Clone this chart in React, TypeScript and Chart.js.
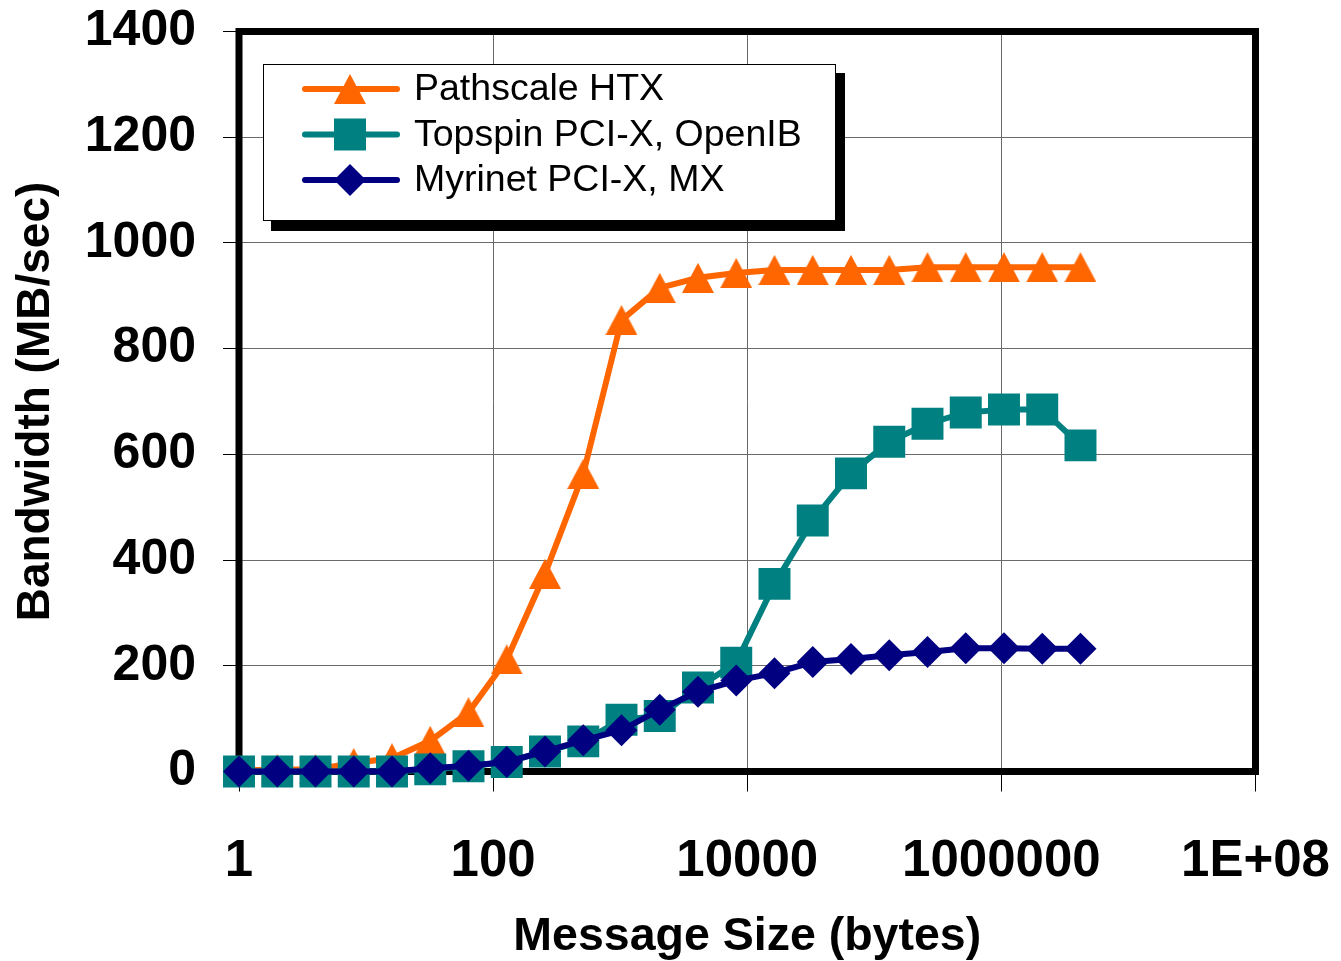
import React, { useEffect, useRef } from 'react';
import { Chart, registerables } from 'chart.js';

Chart.register(...registerables);

// ---- Data ----
const messageSizes = [
  1, 2, 4, 8, 16, 32, 64, 128, 256, 512, 1024, 2048, 4096, 8192, 16384, 32768,
  65536, 131072, 262144, 524288, 1048576, 2097152, 4194304,
];
const pathscaleHTX = [
  2, 4, 4, 16, 25, 58, 112, 212, 374, 563, 854, 915, 934, 943, 949, 949, 949,
  949, 954, 954, 954, 954, 954,
];
const topspinOpenIB = [
  0, 0, 0, 0, 0, 4, 10, 18, 38, 57, 98, 105, 159, 206, 355, 475, 564, 624, 658,
  679, 685, 685, 617,
];
const myrinetMX = [
  0, 0, 0, 0, 0, 6, 11, 18, 38, 59, 78, 117, 151, 172, 186, 207, 213, 220, 226,
  233, 233, 232, 232,
];
const seriesLabels = ['Pathscale HTX', 'Topspin PCI-X, OpenIB', 'Myrinet PCI-X, MX'];
const xTickValues = [1, 100, 10000, 1000000, 100000000];
const xTickLabels = ['1', '100', '10000', '1000000', '1E+08'];
const yTickValues = [0, 200, 400, 600, 800, 1000, 1200, 1400];
const yTickLabels = ['0', '200', '400', '600', '800', '1000', '1200', '1400'];

const FONT = '"Liberation Sans", Arial, Helvetica, sans-serif';
const ORANGE = '#FF6600';
const TEAL = '#008080';
const NAVY = '#000080';

const TRI_W = 32;
const TRI_H = 30;

function makeTriangleCanvas(color: string) {
  const c = document.createElement('canvas');
  c.width = TRI_W;
  c.height = TRI_H;
  const g = c.getContext('2d');
  if (g) {
    g.fillStyle = color;
    g.beginPath();
    g.moveTo(TRI_W / 2, 0);
    g.lineTo(TRI_W, TRI_H);
    g.lineTo(0, TRI_H);
    g.closePath();
    g.fill();
  }
  return c;
}

function drawMarker(ctx: CanvasRenderingContext2D, style: string, x: number, y: number, color: string) {
  ctx.save();
  ctx.fillStyle = color;
  ctx.beginPath();
  if (style === 'triangle') {
    ctx.moveTo(x, y - TRI_H / 2);
    ctx.lineTo(x + TRI_W / 2, y + TRI_H / 2);
    ctx.lineTo(x - TRI_W / 2, y + TRI_H / 2);
  } else if (style === 'rect') {
    const h = 16;
    ctx.rect(x - h, y - h, 2 * h, 2 * h);
  } else {
    const r = 16;
    ctx.moveTo(x - r, y);
    ctx.lineTo(x, y - r);
    ctx.lineTo(x + r, y);
    ctx.lineTo(x, y + r);
  }
  ctx.closePath();
  ctx.fill();
  ctx.restore();
}

const framePlugin = {
  id: 'excelFrame',
  beforeDatasetsDraw(chart: any) {
    const { ctx, chartArea } = chart;
    ctx.save();
    ctx.strokeStyle = '#000';
    ctx.lineWidth = 7;
    ctx.strokeRect(chartArea.left, chartArea.top, chartArea.right - chartArea.left, chartArea.bottom - chartArea.top);
    ctx.restore();
  },
};

const legendPlugin = {
  id: 'shadowLegend',
  afterDraw(chart: any) {
    const { ctx } = chart;
    const bx = 263, by = 64, bw = 572, bh = 156;
    ctx.save();
    ctx.fillStyle = '#000';
    ctx.fillRect(bx + 8, by + 9, bw + 2, bh + 2);
    ctx.fillStyle = '#fff';
    ctx.fillRect(bx, by, bw, bh);
    ctx.strokeStyle = '#000';
    ctx.lineWidth = 1;
    ctx.strokeRect(bx + 0.5, by + 0.5, bw, bh);
    const styles = ['triangle', 'rect', 'rectRot'];
    chart.data.datasets.forEach((ds: any, i: number) => {
      const y = 89 + i * 45.5;
      ctx.strokeStyle = ds.borderColor;
      ctx.lineWidth = 6;
      ctx.lineCap = 'round';
      ctx.beginPath();
      ctx.moveTo(305, y);
      ctx.lineTo(397, y);
      ctx.stroke();
      drawMarker(ctx, styles[i], 350, y, ds.backgroundColor);
      ctx.fillStyle = '#000';
      ctx.font = `37.5px ${FONT}`;
      ctx.textBaseline = 'middle';
      ctx.textAlign = 'left';
      ctx.fillText(ds.label, 414, y + 1);
    });
    ctx.restore();
  },
};

function toPoints(values: number[]) {
  return messageSizes.map((x, i) => ({ x, y: values[i] }));
}

export default function App() {
  const canvasRef = useRef<HTMLCanvasElement | null>(null);

  useEffect(() => {
    const canvas = canvasRef.current;
    if (!canvas) return;
    const triangle = makeTriangleCanvas(ORANGE);
    const chart = new Chart(canvas, {
      type: 'line',
      data: {
        datasets: [
          {
            label: seriesLabels[0],
            data: toPoints(pathscaleHTX),
            borderColor: ORANGE,
            backgroundColor: ORANGE,
            pointStyle: triangle as any,
            pointRadius: 16,
            pointBorderWidth: 0,
            borderWidth: 6,
            order: 2,
            clip: false as any,
          },
          {
            label: seriesLabels[1],
            data: toPoints(topspinOpenIB),
            borderColor: TEAL,
            backgroundColor: TEAL,
            pointStyle: 'rect',
            pointRadius: 22.6,
            pointBorderWidth: 0,
            borderWidth: 6,
            order: 1,
            clip: false as any,
          },
          {
            label: seriesLabels[2],
            data: toPoints(myrinetMX),
            borderColor: NAVY,
            backgroundColor: NAVY,
            pointStyle: 'rectRot',
            pointRadius: 16,
            pointBorderWidth: 0,
            borderWidth: 6,
            order: 0,
            clip: false as any,
          },
        ],
      },
      options: {
        animation: false,
        responsive: false,
        maintainAspectRatio: false,
        layout: { padding: { left: 0, top: 31.5, right: 85.5, bottom: 0 } },
        plugins: {
          legend: { display: false },
          tooltip: { enabled: false },
        },
        elements: { line: { tension: 0 } },
        scales: {
          x: {
            type: 'logarithmic',
            min: 1,
            max: 100000000,
            afterFit: (s: any) => {
              s.height = 189.5;
              s.paddingLeft = 0;
              s.paddingRight = 0;
              s.paddingTop = 0;
              s.paddingBottom = 0;
            },
            afterBuildTicks: (s: any) => { s.ticks = xTickValues.map((v) => ({ value: v })); },
            ticks: {
              autoSkip: false,
              maxRotation: 0,
              padding: 40,
              color: '#000',
              font: { family: FONT, size: 51, weight: 'bold', lineHeight: 1.2 },
              callback: (v: any) => {
                const idx = xTickValues.indexOf(Number(v));
                return idx >= 0 ? xTickLabels[idx] : '';
              },
            },
            grid: { color: '#6a6a6a', lineWidth: 1, tickLength: 20, tickColor: '#000', drawTicks: true },
            border: { display: false },
            title: {
              display: true,
              text: 'Message Size (bytes)',
              color: '#000',
              font: { family: FONT, size: 46.5, weight: 'bold', lineHeight: 1 },
              padding: { top: 0, bottom: 1 },
            },
          },
          y: {
            type: 'linear',
            min: 0,
            max: 1400,
            afterFit: (s: any) => {
              s.width = 239;
              s.paddingLeft = 0;
              s.paddingRight = 0;
              s.paddingTop = 0;
              s.paddingBottom = 0;
            },
            afterBuildTicks: (s: any) => { s.ticks = yTickValues.map((v) => ({ value: v })); },
            ticks: {
              padding: 27,
              color: '#000',
              font: { family: FONT, size: 50, weight: 'bold', lineHeight: 1.2 },
              callback: (v: any) => {
                const idx = yTickValues.indexOf(Number(v));
                return idx >= 0 ? yTickLabels[idx] : '';
              },
            },
            grid: { color: '#6a6a6a', lineWidth: 1, tickLength: 16, tickColor: '#000', drawTicks: true },
            border: { display: false },
            title: {
              display: true,
              text: 'Bandwidth (MB/sec)',
              color: '#000',
              font: { family: FONT, size: 46, weight: 'bold', lineHeight: 1 },
              padding: { top: 13, bottom: 0 },
            },
          },
        },
      } as any,
      plugins: [framePlugin, legendPlugin],
    });
    return () => chart.destroy();
  }, []);

  return (
    <div style={{ position: 'fixed', left: 0, top: 0, width: 1341, height: 961, background: '#fff' }}>
      <canvas ref={canvasRef} width={1341} height={961} />
    </div>
  );
}
